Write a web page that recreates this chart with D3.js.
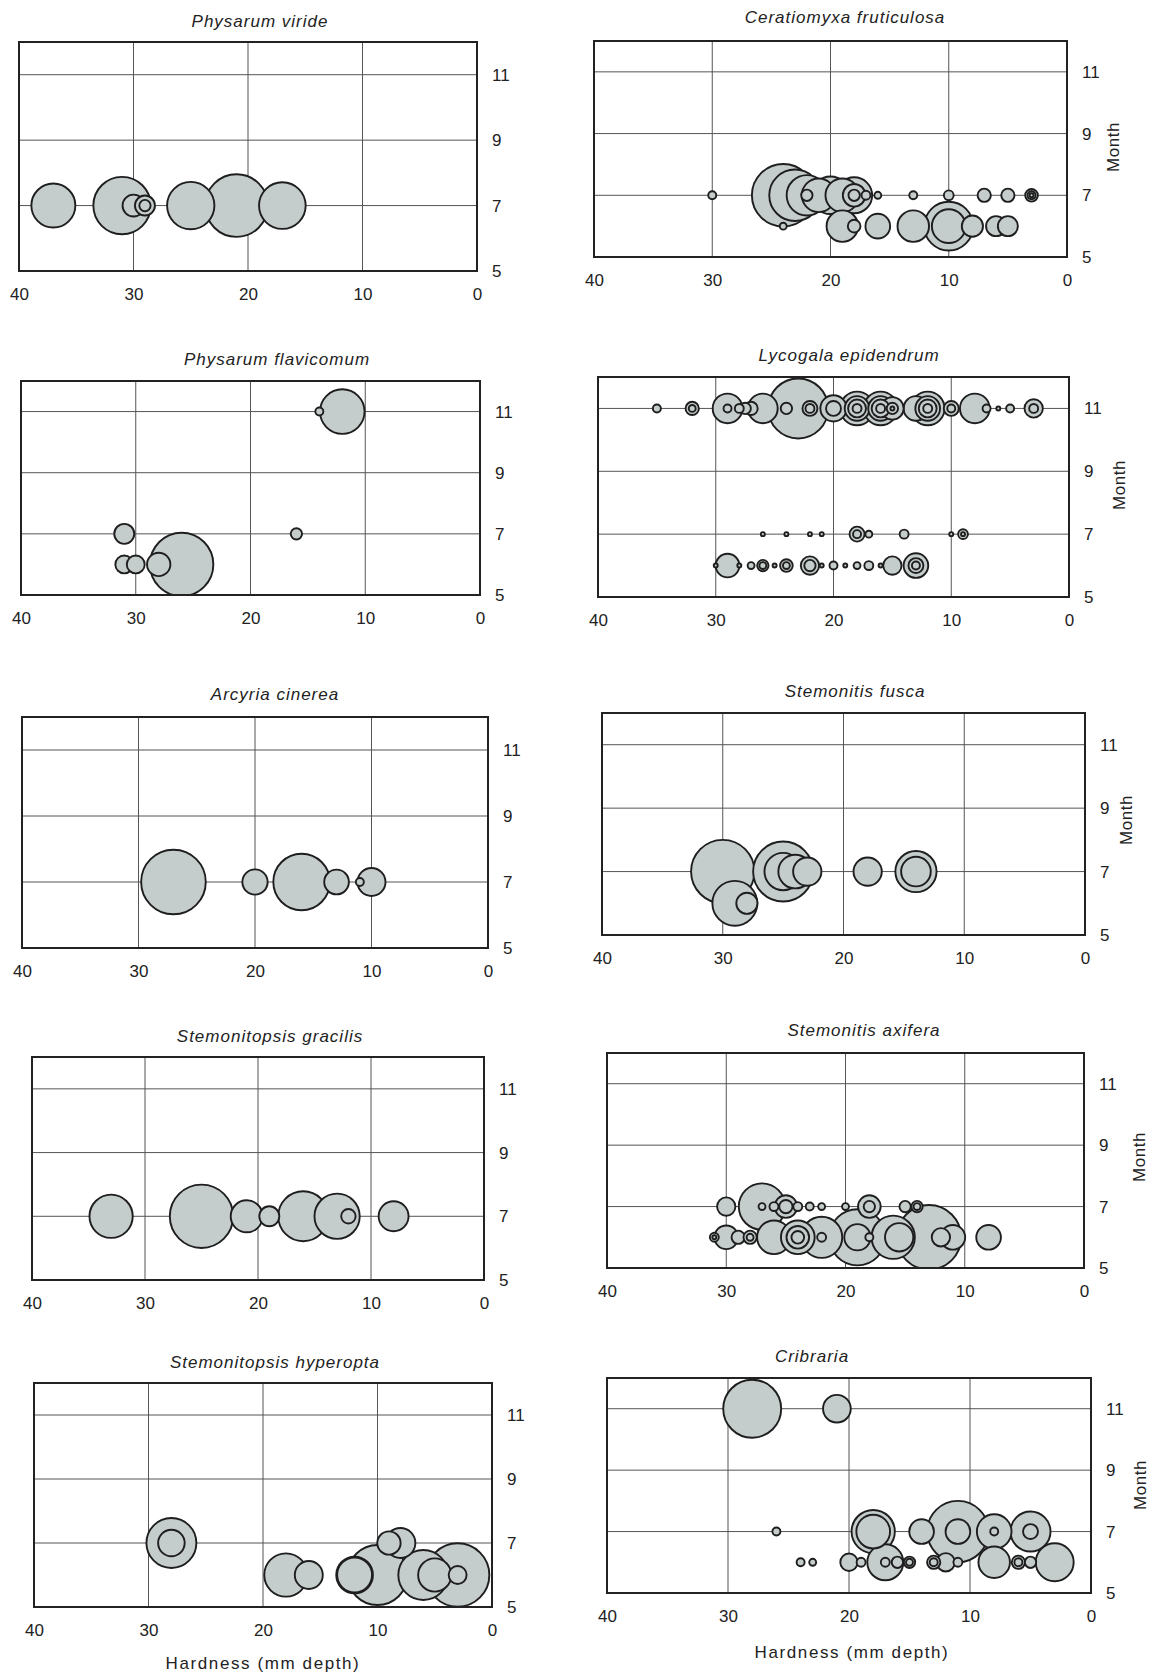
<!DOCTYPE html>
<html>
<head>
<meta charset="utf-8">
<script src="https://cdn.jsdelivr.net/npm/d3@7"></script>
<style>
  body { margin: 0; background: #fff; }
  svg text { font-family: "Liberation Sans", Arial, sans-serif; fill: #222; }
</style>
</head>
<body>
<svg id="chart" width="1154" height="1677"></svg>
<script>
// each record: [hardness (mm depth), month, count]
var physarumViride = [[37,7,121],[31,7,206],[30,7,30],[29,7,25],[29,7,8],[25,7,140],[21,7,245],[17,7,136]];

var ceratiomyxa = [
  [30,7,4],[24,7,245],[23,7,166],[22,7,102],[22,7,8],[21,7,71],[20,7,88],[19,7,71],[18,7,81],[18,7,32],[18,7,8],
  [17,7,5],[16,7,3],[13,7,4],[10,7,6],[7,7,11],[5,7,11],[3,7,10],[3,7,4],[3,7,1],
  [24,6,3],[19,6,62],[18,6,10],[16,6,38],[13,6,62],[10,6,149],[10,6,71],[8,6,28],[6,6,25],[5,6,25]
];

var physarumFlavicomum = [[14,11,4],[12,11,124],[31,7,25],[16,7,8],[31,6,20],[30,6,20],[28,6,34],[26,6,251]];

var lycogala = [
  [35,11,4],[32,11,11],[32,11,3],[29,11,55],[29,11,4],[28,11,5],[27.5,11,8],[27,11,11],[26,11,55],[23,11,225],
  [24,11,8],[22,11,14],[22,11,5],[20,11,43],[20,11,14],[18,11,71],[18,11,38],[18,11,20],[18,11,5],
  [16,11,71],[16,11,38],[16,11,20],[16,11,5],[15,11,32],[15,11,8],[15,11,1],[13,11,38],
  [12,11,71],[12,11,38],[12,11,20],[12,11,5],[10,11,14],[10,11,4],[8,11,55],[7,11,4],[6,11,1],[5,11,4],[3,11,21],[3,11,5],
  [26,7,1],[24,7,1],[22,7,1],[21,7,1],[18,7,14],[18,7,4],[17,7,3],[14,7,5],[10,7,1],[9,7,6],[9,7,1],
  [30,6,1],[29,6,35],[28,6,1],[27,6,3],[26,6,8],[26,6,3],[25,6,1],[24,6,10],[24,6,3],[22,6,21],[22,6,8],
  [21,6,1],[20,6,4],[19,6,1],[18,6,3],[17,6,5],[16,6,1],[15,6,21],[13,6,38],[13,6,14],[13,6,4]
];

var arcyriaCinerea = [[27,7,261],[20,7,40],[16,7,200],[13,7,38],[11,7,4],[10,7,49]];

var stemonitisFusca = [[30,7,251],[25,7,225],[25,7,87],[24,7,71],[23,7,50],[18,7,50],[14,7,106],[14,7,55],[29,6,126],[28,6,28]];

var stemonitopsisGracilis = [[33,7,117],[25,7,251],[21,7,64],[19,7,25],[16,7,156],[13,7,128],[12,7,13],[8,7,56]];

var stemonitisAxifera = [
  [30,7,21],[27,7,135],[27,7,3],[26,7,5],[25,7,32],[25,7,11],[24,7,5],[23,7,4],[22,7,3],[20,7,3],[18,7,32],[18,7,8],
  [15,7,8],[14,7,8],[14,7,3],
  [31,6,5],[31,6,1],[30,6,35],[29,6,11],[28,6,11],[28,6,3],[26,6,71],[24,6,71],[24,6,32],[24,6,10],[22,6,106],[22,6,5],
  [19,6,197],[19,6,43],[18,6,4],[16,6,117],[15.5,6,50],[13,6,260],[12,6,21],[11,6,38],[8,6,38]
];

var stemonitopsisHyperopta = [
  [28,7,156],[28,7,44],[18,6,117],[16,6,49],[12,6,84],[12,6,76],[10,6,225],[9,7,34],[8,7,56],
  [6,6,156],[5,6,69],[3,6,251],[3,6,20]
];

var cribraria = [
  [28,11,210],[21,11,48],
  [26,7,4],[18,7,117],[18,7,71],[14,7,38],[11,7,235],[11,7,38],[8,7,75],[8,7,4],[5,7,100],[5,7,14],
  [24,6,4],[23,6,3],[20,6,19],[19,6,5],[17,6,81],[17,6,5],[16,6,8],[15,6,8],[15,6,3],[13,6,11],[13,6,4],
  [12,6,21],[11,6,5],[8,6,62],[6,6,11],[6,6,4],[5,6,8],[3,6,90]
];

var hardnessTicks = [40, 30, 20, 10, 0];
var monthTicks = [5, 7, 9, 11];
var gridHardness = [30, 20, 10];
var gridMonth = [7, 9, 11];

// layout: plot box [left, top, right, bottom], title anchor, month label anchor, axis title anchor
var panels = [
  {title: "Physarum viride", data: physarumViride, box: [19,42,477,271], t: [260,27]},
  {title: "Ceratiomyxa fruticulosa", data: ceratiomyxa, box: [594,41,1067,257], t: [845,23], m: [1119,147]},
  {title: "Physarum flavicomum", data: physarumFlavicomum, box: [21,381,480,595], t: [277,365]},
  {title: "Lycogala epidendrum", data: lycogala, box: [598,377,1069,597], t: [849,361], m: [1125,485]},
  {title: "Arcyria cinerea", data: arcyriaCinerea, box: [22,717,488,948], t: [275,700]},
  {title: "Stemonitis fusca", data: stemonitisFusca, box: [602,713,1085,935], t: [855,697], m: [1132,820]},
  {title: "Stemonitopsis gracilis", data: stemonitopsisGracilis, box: [32,1057,484,1280], t: [270,1042]},
  {title: "Stemonitis axifera", data: stemonitisAxifera, box: [607,1053,1084,1268], t: [864,1036], m: [1145,1157]},
  {title: "Stemonitopsis hyperopta", data: stemonitopsisHyperopta, box: [34,1383,492,1607], t: [275,1368], a: [263,1669]},
  {title: "Cribraria", data: cribraria, box: [607,1378,1091,1593], t: [812,1362], m: [1146,1485], a: [852,1658]}
];

var svg = d3.select("#chart");
var rScale = d3.scaleSqrt().domain([0, 400]).range([0, 40]);

panels.forEach(function (p, i) {
  var L = p.box[0], T = p.box[1], R = p.box[2], B = p.box[3];
  var x = d3.scaleLinear().domain([40, 0]).range([L, R]);
  var y = d3.scaleLinear().domain([5, 12]).range([B, T]);
  var g = svg.append("g");

  g.append("clipPath").attr("id", "clip" + i)
    .append("rect").attr("x", L - 1).attr("y", T - 1).attr("width", R - L + 2).attr("height", B - T + 2);

  // grid
  g.selectAll("line.vg").data(gridHardness).enter().append("line")
    .attr("x1", function (d) { return x(d); }).attr("x2", function (d) { return x(d); })
    .attr("y1", T).attr("y2", B)
    .attr("stroke", "#555").attr("stroke-width", 1);
  g.selectAll("line.hg").data(gridMonth).enter().append("line")
    .attr("x1", L).attr("x2", R)
    .attr("y1", function (d) { return y(d); }).attr("y2", function (d) { return y(d); })
    .attr("stroke", "#555").attr("stroke-width", 1);

  // bubbles, large ones first so small ones sit on top
  var sorted = p.data.slice().sort(function (a, b) { return b[2] - a[2]; });
  g.append("g").attr("clip-path", "url(#clip" + i + ")")
    .selectAll("circle").data(sorted).enter().append("circle")
    .attr("cx", function (d) { return x(d[0]); })
    .attr("cy", function (d) { return y(d[1]); })
    .attr("r", function (d) { return rScale(d[2]); })
    .attr("fill", "#c5cdcc")
    .attr("stroke", "#1e1e1e")
    .attr("stroke-width", 1.9);

  // frame
  g.append("rect").attr("x", L).attr("y", T).attr("width", R - L).attr("height", B - T)
    .attr("fill", "none").attr("stroke", "#222").attr("stroke-width", 2);

  // axes
  var xa = g.append("g").attr("transform", "translate(0," + B + ")")
    .call(d3.axisBottom(x).tickValues(hardnessTicks).tickFormat(d3.format("d")).tickSize(0).tickPadding(17));
  var ya = g.append("g").attr("transform", "translate(" + R + ",0)")
    .call(d3.axisRight(y).tickValues(monthTicks).tickFormat(d3.format("d")).tickSize(0).tickPadding(15));
  [xa, ya].forEach(function (a) {
    a.select(".domain").remove();
    a.selectAll("text").style("font-size", "17px").attr("fill", "#222")
      .style("font-family", "'Liberation Sans', Arial, sans-serif");
  });

  g.append("text").attr("x", p.t[0]).attr("y", p.t[1])
    .attr("text-anchor", "middle")
    .style("font-size", "17px").style("font-style", "italic").style("letter-spacing", "1px")
    .text(p.title);

  if (p.m) {
    g.append("text")
      .attr("transform", "translate(" + p.m[0] + "," + p.m[1] + ") rotate(-90)")
      .attr("text-anchor", "middle")
      .style("font-size", "17px").style("letter-spacing", "0.5px")
      .text("Month");
  }
  if (p.a) {
    g.append("text").attr("x", p.a[0]).attr("y", p.a[1])
      .attr("text-anchor", "middle")
      .style("font-size", "17px").style("letter-spacing", "1.6px")
      .text("Hardness (mm depth)");
  }
});
</script>
</body>
</html>
